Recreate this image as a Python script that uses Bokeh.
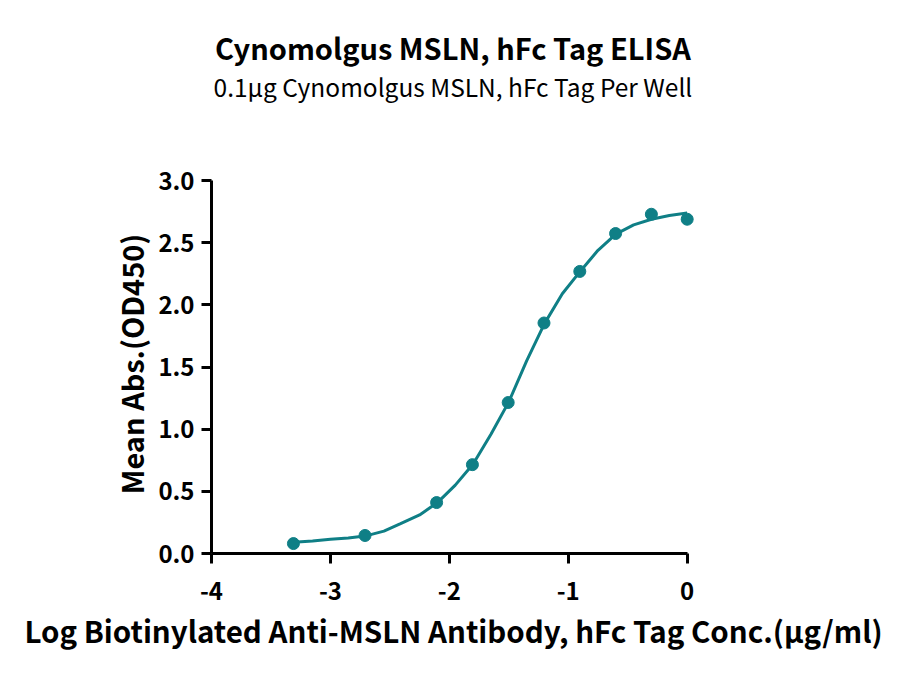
from bokeh.plotting import figure
from bokeh.layouts import column
from bokeh.models import Range1d, FixedTicker, PrintfTickFormatter
from bokeh.core.properties import value
from bokeh.embed import file_html
from bokeh.resources import INLINE

# measured points: log10 concentration (ug/ml) vs mean OD450
log_conc = [-3.311, -2.709, -2.107, -1.806, -1.505, -1.204, -0.903, -0.602, -0.301, 0.0]
mean_abs = [0.08, 0.145, 0.41, 0.715, 1.215, 1.855, 2.27, 2.575, 2.73, 2.69]

# fitted curve
curve_x = [-3.31, -3.15, -3.0, -2.85, -2.71, -2.55, -2.41, -2.25, -2.10, -1.95, -1.80,
           -1.65, -1.50, -1.35, -1.20, -1.05, -0.90, -0.75, -0.60, -0.45, -0.30, -0.15, 0.0]
curve_y = [0.09, 0.10, 0.115, 0.125, 0.14, 0.18, 0.24, 0.31, 0.41, 0.55, 0.72,
           0.96, 1.22, 1.55, 1.85, 2.09, 2.27, 2.44, 2.57, 2.645, 2.69, 2.72, 2.74]

x_ticks = [-4, -3, -2, -1, 0]
y_ticks = [0.0, 0.5, 1.0, 1.5, 2.0, 2.5, 3.0]

title_text = "Cynomolgus MSLN, hFc Tag ELISA"
subtitle_text = "0.1μg Cynomolgus MSLN, hFc Tag Per Well"
x_label = "Log Biotinylated Anti-MSLN Antibody, hFc Tag Conc.(μg/ml)"
y_label = "Mean Abs.(OD450)"

TEAL = "#0f7f86"
FONT = "Noto Sans CJK SC"
W = 884
HEAD = 120

# heading strip (pixel coordinates, y downward)
t = figure(width=W, height=HEAD, output_backend="svg", toolbar_location=None,
           x_range=Range1d(0, W), y_range=Range1d(HEAD, 0),
           min_border=0, x_axis_type=None, y_axis_type=None)
t.outline_line_color = None
t.xgrid.visible = False
t.ygrid.visible = False
t.text(x=[441], y=[46], text=[title_text], text_align="center", text_baseline="alphabetic",
       text_font=value(FONT), text_font_style="bold", text_font_size="29px", text_color="black")
t.text(x=[441], y=[86], text=[subtitle_text], text_align="center", text_baseline="alphabetic",
       text_font=value(FONT), text_font_style="normal", text_font_size="24.5px", text_color="black")

p = figure(width=W, height=661 - HEAD, output_backend="svg", toolbar_location=None,
           x_range=Range1d(-4, 0.07), y_range=Range1d(0, 3.05),
           min_border_left=211, min_border_right=189, min_border_top=174 - HEAD,
           min_border_bottom=108)

p.outline_line_color = None
p.xgrid.visible = False
p.ygrid.visible = False
p.background_fill_color = "white"
p.border_fill_color = "white"

p.line(curve_x, curve_y, line_color=TEAL, line_width=3)
p.scatter(log_conc, mean_abs, size=12, fill_color=TEAL, line_color=TEAL)

for ax in (p.xaxis[0], p.yaxis[0]):
    ax.axis_line_width = 3
    ax.axis_line_color = "black"
    ax.major_tick_line_width = 3
    ax.major_tick_line_color = "black"
    ax.major_tick_out = 10
    ax.major_tick_in = 0
    ax.minor_tick_line_color = None
    ax.major_label_text_font = FONT
    ax.major_label_text_font_style = "bold"
    ax.major_label_text_font_size = "24px"
    ax.major_label_text_color = "black"
    ax.axis_label_text_font = FONT
    ax.axis_label_text_font_style = "bold"
    ax.axis_label_text_color = "black"

p.xaxis[0].ticker = FixedTicker(ticks=x_ticks)
p.xaxis[0].formatter = PrintfTickFormatter(format="%d")
p.xaxis[0].bounds = (-4, 0)
p.xaxis[0].major_label_standoff = 18
p.xaxis[0].axis_label = x_label
p.xaxis[0].axis_label_text_font_size = "29.5px"
p.xaxis[0].axis_label_standoff = 6

p.yaxis[0].ticker = FixedTicker(ticks=y_ticks)
p.yaxis[0].formatter = PrintfTickFormatter(format="%.1f")
p.yaxis[0].bounds = (0, 3)
p.yaxis[0].major_label_standoff = 7
p.yaxis[0].axis_label = y_label
p.yaxis[0].axis_label_text_font_size = "29px"
p.yaxis[0].axis_label_standoff = 3

layout = column(t, p, spacing=0)
open("out.html", "w").write(file_html(layout, INLINE))
